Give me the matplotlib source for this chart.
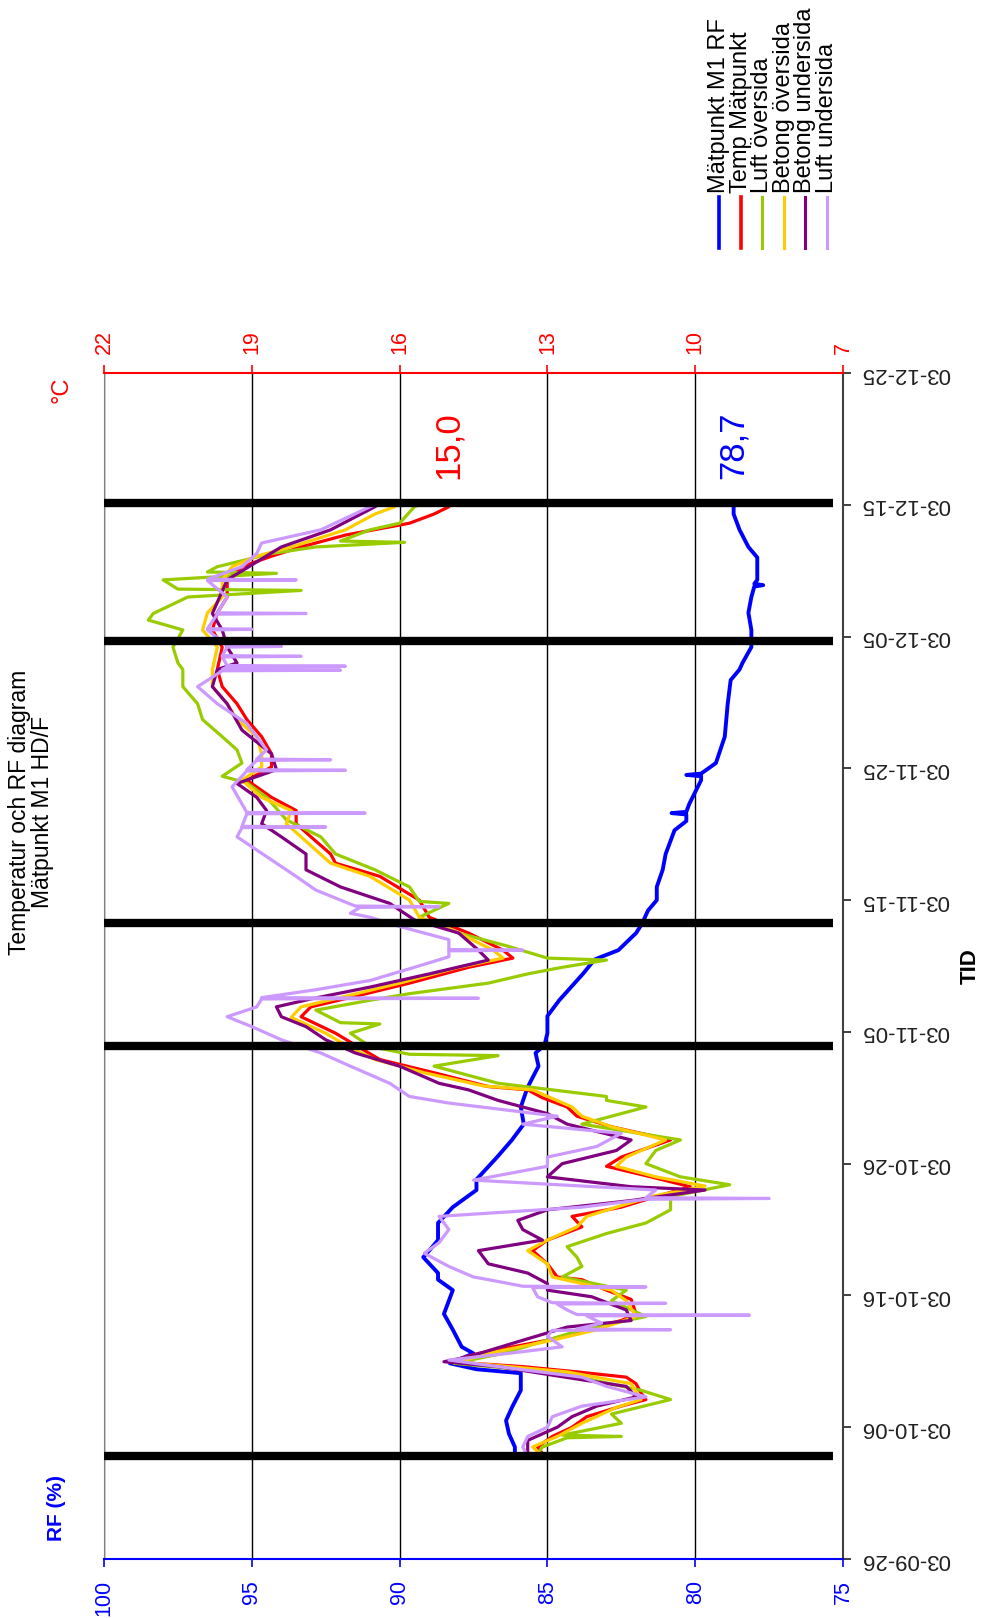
import matplotlib
matplotlib.use('Agg')
import matplotlib.pyplot as plt
from matplotlib import font_manager
from matplotlib.lines import Line2D

plt.rcParams['font.family'] = ['Liberation Sans', 'DejaVu Sans']

# smalare typsnitt för axelsiffrorna om det finns installerat
installerade = {f.name for f in font_manager.fontManager.ttflist}
if 'Liberation Sans Narrow' in installerade:
    siffer_font = dict(family='Liberation Sans Narrow', size=18)
    grad_font = dict(family='Liberation Sans Narrow', size=20)
else:
    siffer_font = dict(family='Liberation Sans', size=15.5)
    grad_font = dict(family='Liberation Sans', size=17)

# 1. Tidsaxel: dagar räknat från 2003-09-26
datum_dag = [0, 10, 20, 30, 40, 50, 60, 70, 80, 90]
datum_text = ['03-09-26', '03-10-06', '03-10-16', '03-10-26', '03-11-05',
              '03-11-15', '03-11-25', '03-12-05', '03-12-15', '03-12-25']
markering_dag = [7.8, 38.95, 48.3, 69.65, 80.15]   # tjocka svarta linjer

rf_ticks = [100, 95, 90, 85, 80, 75]
temp_ticks = [22, 19, 16, 13, 10, 7]

# 2. Mätpunkt M1 RF (%)
rf_dag = [7.8, 8.5, 9.5, 10.5, 11.5, 12.8, 14.1, 14.4, 14.85, 15.6, 16.1, 17.4, 18.6, 20.4,
          21.2, 21.7, 22.9, 23.4, 24.2, 25.5, 26.7, 28.0, 28.8, 30.5, 31.8, 33.0, 34.3, 35.6,
          36.1, 37.4, 38.4, 39.0, 39.9, 41.2, 42.4, 43.4, 44.4, 45.5, 46.2, 47.5, 48.2, 49.2,
          50.0, 51.0, 52.3, 53.5, 55.3, 56.0, 56.5, 56.6, 56.7, 57.3, 59.1, 59.4, 59.5, 59.6,
          60.4, 62.4, 64.9, 66.7, 67.5, 68.0, 69.2, 70.5, 71.8, 73.0, 73.8, 73.9, 74.0, 74.3,
          76.0, 76.8, 78.1, 79.3, 80.15]
rf = [86.1, 86.1, 86.3, 86.4, 86.2, 85.9, 85.9, 87.4, 88.3, 87.5, 87.9, 88.2, 88.5, 88.2,
      88.7, 88.7, 89.2, 89.0, 88.7, 88.7, 88.2, 87.4, 87.4, 86.7, 86.2, 85.8, 85.9, 85.7,
      85.6, 85.3, 85.4, 85.1, 85.0, 85.0, 84.6, 84.2, 83.8, 83.4, 82.6, 82.0, 81.8, 81.6,
      81.3, 81.3, 81.1, 81.0, 80.7, 80.3, 80.3, 80.8, 80.3, 80.2, 79.8, 79.8, 80.3, 79.8,
      79.3, 79.0, 78.9, 78.8, 78.5, 78.4, 78.1, 78.1, 78.2, 78.1, 78.0, 77.7, 78.0, 77.9,
      77.9, 78.2, 78.5, 78.7, 78.7]

# 3. Temperaturer (°C)
temp_dag = [7.8, 8.0, 8.5, 9.3, 10.0, 10.8, 11.6, 12.1, 12.6, 13.3, 13.8, 14.2, 14.6, 14.97,
            15.6, 16.6, 17.4, 18.1, 18.6, 19.7, 20.4, 21.2, 21.4, 22.4, 23.4, 24.2, 25.2, 26.0,
            26.7, 27.5, 28.25, 29.0, 29.8, 30.5, 31.8, 32.8, 33.6, 34.3, 35.0, 35.6, 35.85, 36.9,
            37.9, 39.0, 39.9, 41.15, 41.9, 42.7, 43.7, 44.9, 45.6, 46.2, 47.5, 48.7, 50.0, 51.8,
            52.8, 53.5, 54.8, 55.8, 56.8, 57.8, 59.1, 60.1, 61.1, 62.4, 63.7, 64.9, 66.2, 67.5,
            69.2, 70.5, 71.8, 73.0, 74.3, 75.3, 76.1, 76.8, 77.3, 77.7, 78.6, 79.3, 79.85, 80.15]
temp = [13.0, 13.1, 13.2, 12.9, 12.5, 12.2, 11.5, 11.0, 11.1, 11.2, 11.4, 12.4, 13.5, 15.0,
        14.4, 13.0, 12.2, 11.5, 11.2, 11.3, 11.8, 12.3, 12.8, 13.0, 13.3, 13.0, 12.3, 12.5,
        11.5, 10.8, 10.1, 10.9, 11.8, 11.5, 10.5, 11.7, 12.4, 12.6, 13.1, 13.4, 14.2, 15.3,
        16.4, 16.9, 17.3, 18.0, 17.8, 16.9, 15.8, 14.6, 13.7, 13.9, 14.6, 15.4, 15.6, 16.4,
        17.3, 17.4, 17.8, 18.1, 18.1, 18.6, 19.1, 18.6, 18.6, 18.8, 19.1, 19.3, 19.6, 19.7,
        19.6, 19.8, 19.7, 19.5, 19.5, 19.2, 18.6, 18.0, 17.5, 17.1, 15.8, 15.3, 15.0, 15.0]

luft_over_dag = [7.8, 8.0, 8.5, 9.2, 9.3, 9.4, 10.3, 11.0, 12.1, 12.8, 13.6, 14.1, 14.85, 15.6,
                 17.4, 18.4, 19.6, 20.4, 21.4, 22.2, 22.9, 23.7, 24.7, 25.5, 26.5, 27.5, 28.4,
                 29.0, 30.0, 31.0, 31.8, 33.0, 34.3, 34.8, 35.1, 36.1, 37.4, 38.2, 38.3, 38.9,
                 39.9, 40.6, 40.7, 41.65, 42.4, 42.9, 43.7, 44.4, 44.9, 45.45, 45.6, 46.5, 47.5,
                 48.7, 49.75, 49.9, 51.0, 52.3, 53.5, 54.8, 56.1, 57.8, 58.9, 59.4, 60.4, 61.4,
                 62.4, 63.7, 64.9, 66.2, 67.5, 68.0, 69.2, 70.5, 71.25, 71.75, 73.0, 73.5, 73.6,
                 74.3, 74.8, 74.9, 75.3, 76.3, 76.8, 77.15, 77.25, 78.1, 78.6, 79.85, 80.15]
luft_over = [13.0, 13.2, 13.1, 12.6, 11.5, 12.7, 11.5, 11.7, 10.5, 11.1, 12.1, 12.7, 14.9, 13.9,
             12.3, 11.0, 11.7, 11.4, 12.7, 12.3, 12.4, 12.6, 11.8, 11.0, 10.5, 10.5, 9.3,
             10.3, 11.0, 10.8, 10.3, 12.3, 11.0, 11.8, 11.8, 14.0, 15.3, 14.0, 15.8, 16.6,
             17.0, 16.4, 17.2, 17.7, 16.6, 15.8, 14.2, 13.4, 12.7, 11.8, 13.0, 13.8, 14.8,
             15.6, 15.0, 15.6, 15.8, 16.5, 17.3, 17.6, 18.3, 18.7, 19.1, 19.6, 19.2, 19.3,
             19.6, 20.0, 20.1, 20.4, 20.4, 20.5, 20.6, 20.4, 21.1, 21.0, 20.3, 18.0, 20.5,
             20.8, 18.5, 19.9, 19.7, 18.6, 17.7, 15.9, 17.2, 16.6, 16.0, 15.7, 15.5]

betong_over_dag = [7.8, 8.5, 9.3, 10.3, 11.5, 12.1, 13.3, 14.2, 14.95, 15.6, 16.6, 17.4, 18.4,
                   19.6, 20.4, 21.4, 22.4, 23.4, 24.2, 25.2, 26.0, 26.7, 27.5, 28.3, 29.0, 29.8,
                   30.5, 31.8, 32.8, 33.6, 34.3, 35.6, 35.9, 36.9, 37.9, 39.0, 39.9, 41.1, 41.9,
                   42.7, 43.7, 44.9, 45.6, 46.2, 47.5, 48.7, 50.0, 51.8, 52.8, 54.8, 55.8, 56.8,
                   57.8, 59.1, 60.1, 61.1, 62.4, 63.7, 64.9, 66.2, 67.5, 69.2, 70.5, 71.8, 73.0,
                   74.3, 75.3, 76.1, 76.8, 78.1, 79.3, 79.85, 80.15]
betong_over = [13.1, 13.3, 12.8, 12.3, 11.6, 11.1, 11.3, 12.6, 14.8, 14.2, 12.9, 12.0, 11.2,
               11.4, 11.7, 12.9, 13.0, 13.4, 13.0, 12.4, 12.2, 11.6, 10.9, 9.8, 10.8, 11.6,
               11.4, 10.6, 11.7, 12.3, 12.5, 13.3, 14.3, 15.5, 16.5, 17.1, 17.5, 18.2, 18.0,
               17.1, 16.0, 14.8, 13.9, 14.1, 14.8, 15.6, 15.8, 16.6, 17.4, 18.0, 18.3, 18.2,
               18.8, 19.2, 18.8, 18.8, 18.9, 19.3, 19.5, 19.8, 19.8, 19.7, 20.0, 19.9, 19.6,
               19.6, 19.4, 18.9, 18.2, 17.1, 16.5, 16.1, 16.1]

betong_under_dag = [7.8, 8.0, 9.0, 10.0, 10.8, 11.6, 12.3, 13.1, 13.6, 14.6, 14.97, 15.35, 16.6,
                    17.6, 18.1, 18.9, 19.9, 20.4, 20.9, 21.7, 22.4, 23.4, 24.2, 25.0, 25.7, 26.5,
                    27.2, 28.0, 28.25, 29.0, 30.0, 31.0, 31.8, 33.0, 33.8, 34.8, 35.6, 36.1, 37.4,
                    38.4, 39.4, 40.4, 41.15, 41.9, 42.5, 43.4, 44.4, 45.45, 46.2, 47.5, 48.5, 49.75,
                    51.0, 52.3, 53.5, 54.8, 55.8, 56.8, 57.8, 58.85, 59.9, 61.1, 62.9, 64.9, 66.2,
                    67.5, 68.0, 69.2, 70.5, 71.75, 74.3, 76.8, 78.1, 79.85, 80.15]
betong_under = [13.3, 13.4, 13.4, 12.8, 12.5, 12.0, 11.2, 11.4, 12.3, 14.0, 15.1, 14.6, 13.5,
                12.6, 11.3, 11.4, 12.1, 13.0, 13.0, 13.4, 14.2, 14.4, 13.1, 13.5, 13.6, 13.0,
                11.3, 9.8, 11.3, 13.0, 12.7, 11.6, 11.3, 12.6, 13.0, 14.0, 14.6, 15.2, 16.0,
                16.9, 17.5, 17.9, 18.4, 18.5, 17.8, 16.6, 15.4, 14.2, 14.4, 14.8, 15.7, 16.2,
                17.2, 17.9, 17.9, 18.4, 18.8, 18.7, 18.9, 19.3, 18.5, 18.6, 19.2, 19.5, 19.8,
                19.7, 19.3, 19.5, 19.6, 19.8, 19.5, 18.4, 17.4, 16.5, 16.4]

luft_under_dag = [7.8, 8.5, 9.3, 10.0, 10.8, 11.6, 12.3, 13.1, 13.8, 14.6, 15.1, 15.6, 16.1, 16.9,
                  17.35, 17.4, 17.45, 17.9, 18.45, 18.5, 18.55, 18.9, 19.35, 19.4, 19.45, 19.9,
                  20.6, 20.65, 20.7, 21.2, 21.4, 22.2, 23.2, 24.0, 25.0, 26.0, 26.7, 27.3, 27.36,
                  27.42, 28.0, 28.75, 29.8, 30.5, 31.3, 32.3, 33.0, 33.6, 34.6, 35.1, 35.6, 36.1,
                  37.4, 38.4, 39.4, 40.4, 41.15, 41.9, 42.5, 42.55, 42.6, 43.2, 43.9, 44.9, 45.7,
                  46.15, 46.2, 46.25, 47.0, 48.0, 48.7, 49.0, 49.45, 49.5, 49.55, 50.76, 51.8,
                  52.8, 53.8, 54.8, 55.5, 55.55, 55.6, 56.55, 56.6, 56.65, 57.3, 58.6, 59.8, 59.85,
                  59.9, 60.6, 60.65, 60.7, 61.4, 63.4, 64.9, 66.2, 67.4, 67.45, 67.5, 67.7, 67.75,
                  67.8, 68.45, 68.5, 68.55, 69.2, 69.25, 69.3, 70.5, 70.55, 70.6, 71.7, 71.75, 71.8,
                  73.0, 74.25, 74.3, 74.35, 75.3, 76.3, 77.1, 78.1, 79.85, 80.15]
luft_under = [13.4, 13.5, 13.4, 13.0, 12.9, 12.3, 11.0, 11.8, 12.3, 14.0, 15.0, 13.8, 12.7, 13.0,
              12.9, 10.5, 12.4, 11.9, 12.2, 8.9, 12.4, 12.6, 12.8, 10.6, 12.9, 13.2,
              13.3, 11.0, 13.5, 14.2, 14.5, 15.0, 15.5, 15.2, 15.0, 15.2, 12.3, 11.0, 8.5,
              11.0, 10.8, 14.5, 13.0, 13.0, 12.0, 11.5, 13.5, 12.8, 15.0, 15.8, 16.0, 16.2,
              17.0, 17.6, 18.4, 19.0, 19.5, 18.9, 18.8, 14.4, 18.8, 17.7, 16.6, 15.7, 15.0,
              15.0, 13.5, 15.0, 15.0, 16.0, 16.6, 17.0, 16.8, 15.2, 16.9, 17.7, 18.1,
              18.5, 18.9, 19.3, 19.2, 17.5, 19.2, 19.1, 16.7, 19.1, 19.2, 19.4, 19.1, 17.1,
              19.1, 18.9, 17.4, 18.9, 18.7, 19.1, 19.7, 20.1, 19.6, 17.2, 19.6, 19.5, 17.1,
              19.5, 19.6, 18.0, 19.6, 19.5, 18.4, 19.5, 19.9, 19.0, 19.9, 19.7, 17.9, 19.7,
              19.5, 19.9, 18.1, 19.9, 19.2, 18.9, 18.8, 17.6, 16.6, 16.4]

serie_namn = ['Mätpunkt M1 RF', 'Temp Mätpunkt', 'Luft översida',
              'Betong översida', 'Betong undersida', 'Luft undersida']
serie_farg = ['#0000FF', '#FF0000', '#99CC00', '#FFCC00', '#800080', '#CC99FF']

# 4. Figur (diagrammet ligger vridet 90 grader på sidan)
W, H = 990, 1618
fig = plt.figure(figsize=(W / 100, H / 100), dpi=100)
ax = fig.add_axes([104 / W, 1 - 1559 / H, (843 - 104) / W, (1559 - 373) / H])
ax2 = ax.twiny()


def px(x, y):
    return x / W, 1 - y / H


ax.set_xlim(100, 75)
ax.set_ylim(0, 90)
ax2.set_xlim(22, 7)

# RF-axel (nederst, blå)
ax.set_xticks(rf_ticks)
ax.set_xticklabels([str(v) for v in rf_ticks], rotation=90, fontdict=siffer_font)
ax.tick_params(axis='x', colors='#0000FF', length=6, width=1.2, pad=9)
ax.xaxis.grid(True, color='black', linewidth=1)

# Tidsaxel (höger), etiketterna står upp och ner
ax.yaxis.tick_right()
ax.set_yticks(datum_dag)
ax.set_yticklabels(datum_text, rotation=180, va='center')
ax.tick_params(axis='y', labelsize=16, length=6, width=1.2, pad=7, colors='#202020')

# Temperaturaxel (överst, röd)
ax2.set_xticks(temp_ticks)
ax2.set_xticklabels([str(v) for v in temp_ticks], rotation=90, fontdict=siffer_font)
ax2.tick_params(axis='x', colors='#FF0000', length=6, width=1.2, pad=8)

ax.spines['bottom'].set_color('#0000FF')
ax.spines['bottom'].set_linewidth(1.5)
ax.spines['left'].set_color('#808080')
ax.spines['right'].set_color('#404040')
ax.spines['right'].set_linewidth(1.5)
ax.spines['top'].set_visible(False)
for s in ['left', 'right', 'bottom']:
    ax2.spines[s].set_visible(False)
ax2.spines['top'].set_color('#FF0000')
ax2.spines['top'].set_linewidth(1.5)

# 5. Serierna
ax.plot(rf, rf_dag, color=serie_farg[0], lw=2.8)
temp_serier = [(temp, temp_dag), (luft_over, luft_over_dag), (betong_over, betong_over_dag),
               (betong_under, betong_under_dag), (luft_under, luft_under_dag)]
for (v, d), farg in zip(temp_serier, serie_farg[1:]):
    ax2.plot(v, d, color=farg, lw=2.3)

for d in markering_dag:
    ax2.axhline(d, xmin=0, xmax=0.986, color='black', lw=6, solid_capstyle='butt', zorder=5)

# Slutvärden
ax2.text(temp[-1], 84.5, f'{temp[-1]:.1f}'.replace('.', ','), color='#FF0000',
         fontsize=25, rotation=90, ha='center', va='center')
ax.text(rf[-1], 84.5, f'{rf[-1]:.1f}'.replace('.', ','), color='#0000FF',
        fontsize=25, rotation=90, ha='center', va='center')

# 6. Texter
fig.text(*px(20, 812), 'Temperatur och RF diagram', rotation=90, ha='center', va='center',
         fontsize=16.5)
fig.text(*px(43, 812), 'Mätpunkt M1 HD/F', rotation=90, ha='center', va='center',
         fontsize=16.5)
fig.text(*px(57, 1508), 'RF (%)', rotation=90, ha='center', va='center', fontsize=15,
         fontweight='bold', color='#0000FF')
fig.text(*px(62, 390), '°C', rotation=90, ha='center', va='center', color='#FF0000',
         fontfamily=grad_font['family'], fontsize=grad_font['size'])
fig.text(*px(970, 966), 'TID', rotation=90, ha='center', va='center', fontsize=16,
         fontweight='bold')

# 7. Förklaring (byggd för hand, roterad)
for i, (namn, farg) in enumerate(zip(serie_namn, serie_farg)):
    x = 719 + i * 21.6
    x0, y0 = px(x, 197)
    x1, y1 = px(x, 248)
    fig.add_artist(Line2D([x0, x1], [y0, y1], color=farg, lw=2.6 if i < 2 else 2.2))
    fig.text(*px(x, 193), namn, rotation=90, ha='center', va='bottom', fontsize=17)

fig.savefig('out.png', dpi=100)
